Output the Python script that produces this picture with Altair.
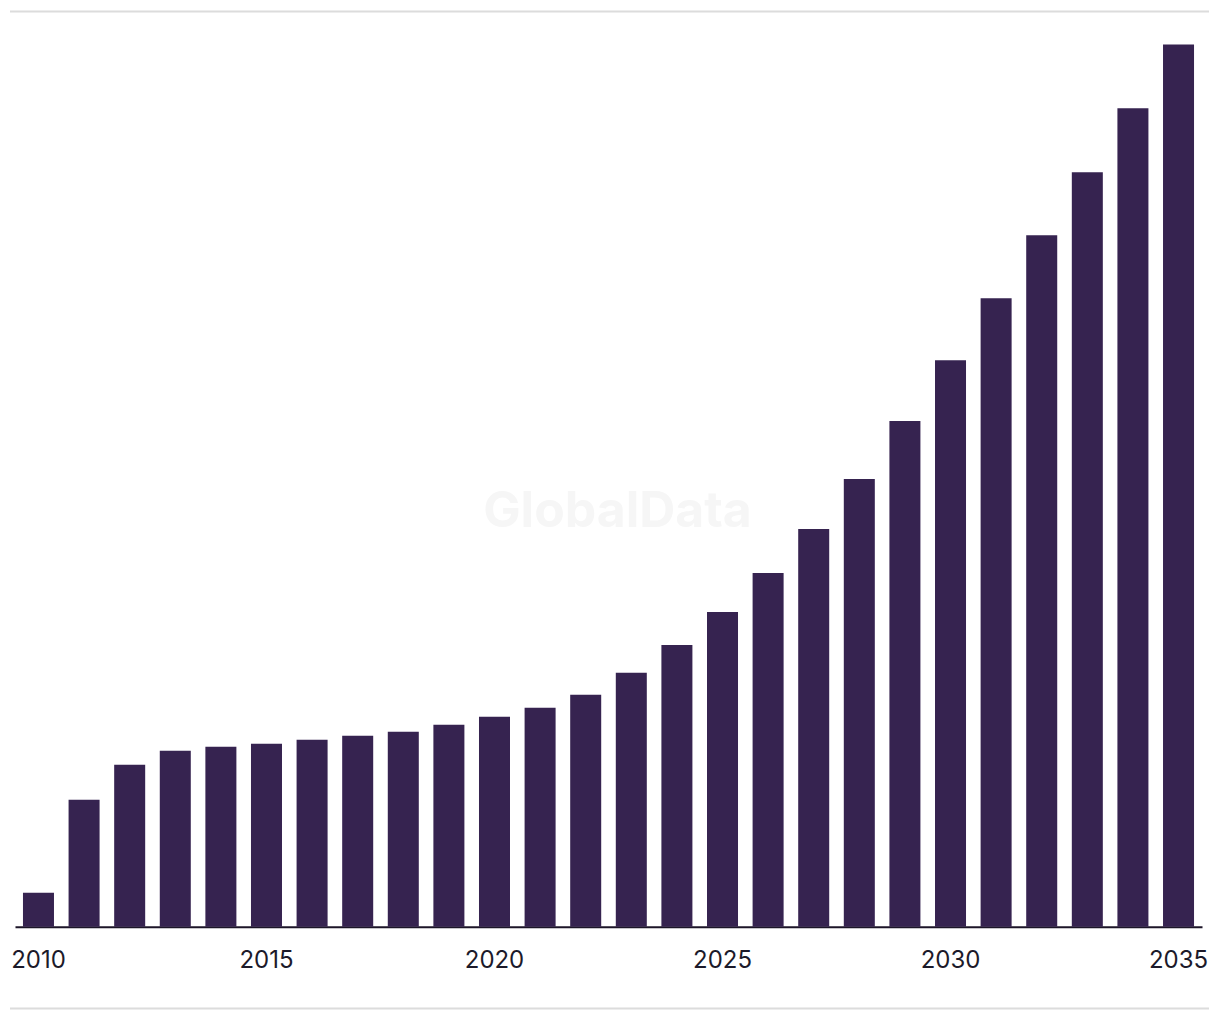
import altair as alt
import pandas as pd

years = list(range(2010, 2036))
values = [34, 127, 162, 176, 180, 183, 187, 191, 195, 202, 210, 219, 232, 254,
          282, 315, 354, 398, 448, 506, 567, 629, 692, 755, 819, 883]
tick_years = ["2010", "2015", "2020", "2025", "2030", "2035"]

df = pd.DataFrame({"year": [str(y) for y in years], "value": values})

W, H = 1188, 916

bars = alt.Chart(df).mark_bar(color="#362350").encode(
    x=alt.X("year:N", sort=None,
            scale=alt.Scale(paddingInner=0.32, paddingOuter=0.175),
            axis=alt.Axis(title=None, labelAngle=0, values=tick_years,
                          ticks=False, domainColor="#1c1528", domainWidth=2,
                          labelFont="Inter", labelFontSize=24,
                          labelColor="#1c1a2a", labelPadding=22,
                          labelAlign="center", labelBaseline="top")),
    y=alt.Y("value:Q", scale=alt.Scale(domain=[0, 916], nice=False),
            axis=None),
)

lines = alt.Chart(pd.DataFrame({"k": [0]})).mark_rule(color="#dcdcdc", strokeWidth=2).encode(
    x=alt.value(-5), x2=alt.value(1195), y=alt.value(0)
)
lines_b = alt.Chart(pd.DataFrame({"k": [0]})).mark_rule(color="#dcdcdc", strokeWidth=2).encode(
    x=alt.value(-5), x2=alt.value(1195), y=alt.value(998)
)

wm = alt.Chart(pd.DataFrame({"t": ["GlobalData"]})).mark_text(
    font="Inter", fontSize=50, fontWeight="bold", color="#f6f6f6"
).encode(text="t:N", x=alt.value(603), y=alt.value(501))

chart = alt.layer(wm, bars, lines, lines_b).properties(
    width=W, height=H,
    autosize=alt.AutoSizeParams(type="none"),
    padding={"left": 7, "top": 3, "right": 10, "bottom": 90},
).configure_view(stroke=None)

chart.save("out.html", embed_options={"renderer": "svg", "actions": False})
